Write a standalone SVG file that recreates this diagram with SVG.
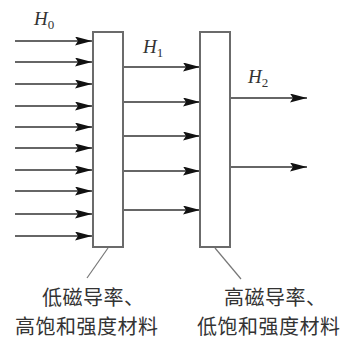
<svg xmlns="http://www.w3.org/2000/svg" width="351" height="339" viewBox="0 0 351 339">
<style>
.box{fill:#fff;stroke:#6b6b6b;stroke-width:2}
.arr{stroke:#333;stroke-width:1.6;fill:none;marker-end:url(#ah)}
.lead{stroke:#777;stroke-width:1.2;fill:none}
.h{font-family:"Liberation Serif",serif;font-style:italic;font-size:19px;fill:#333}
.sub{font-size:13px;font-style:normal}
.cn{font-family:"Noto Sans CJK SC",sans-serif;font-size:20px;fill:#333;letter-spacing:0.5px}
</style>
<defs>
<marker id="ah" markerUnits="userSpaceOnUse" markerWidth="18" markerHeight="10" refX="17" refY="4.5" orient="auto">
<path d="M0,0 L17,4.5 L0,9 L3,4.5 Z" fill="#111"/>
</marker>
</defs>
<rect width="351" height="339" fill="#fff"/>
<g id="connectors">
<line class="arr" x1="15" y1="41" x2="92" y2="41"/>
<line class="arr" x1="15" y1="62" x2="92" y2="62"/>
<line class="arr" x1="15" y1="84" x2="92" y2="84"/>
<line class="arr" x1="15" y1="106" x2="92" y2="106"/>
<line class="arr" x1="15" y1="127" x2="92" y2="127"/>
<line class="arr" x1="15" y1="148" x2="92" y2="148"/>
<line class="arr" x1="15" y1="170" x2="92" y2="170"/>
<line class="arr" x1="15" y1="191" x2="92" y2="191"/>
<line class="arr" x1="15" y1="214" x2="92" y2="214"/>
<line class="arr" x1="15" y1="236" x2="92" y2="236"/>
<line class="arr" x1="124" y1="67" x2="200" y2="67"/>
<line class="arr" x1="124" y1="102" x2="200" y2="102"/>
<line class="arr" x1="124" y1="136" x2="200" y2="136"/>
<line class="arr" x1="124" y1="171" x2="200" y2="171"/>
<line class="arr" x1="124" y1="210" x2="200" y2="210"/>
<line class="arr" x1="231" y1="98" x2="307" y2="98"/>
<line class="arr" x1="231" y1="167" x2="307" y2="167"/>
<line class="lead" x1="108" y1="248" x2="87" y2="278"/>
<line class="lead" x1="215" y1="248" x2="241" y2="279"/>
</g>
<g id="layer1">
<rect class="box" x="93" y="32" width="30" height="215"/>
</g>
<g id="layer2">
<rect class="box" x="200" y="32" width="30" height="215"/>
</g>
<g id="labels">
<text class="h" x="34" y="25">H<tspan class="sub" dy="4">0</tspan></text>
<text class="h" x="143" y="53">H<tspan class="sub" dy="4">1</tspan></text>
<text class="h" x="248" y="83">H<tspan class="sub" dy="4">2</tspan></text>
</g>
<g id="caption1">
<text class="cn" x="42" y="305">低磁导率、</text>
<text class="cn" x="15" y="334">高饱和强度材料</text>
</g>
<g id="caption2">
<text class="cn" x="224" y="305">高磁导率、</text>
<text class="cn" x="197" y="334">低饱和强度材料</text>
</g>
</svg>
